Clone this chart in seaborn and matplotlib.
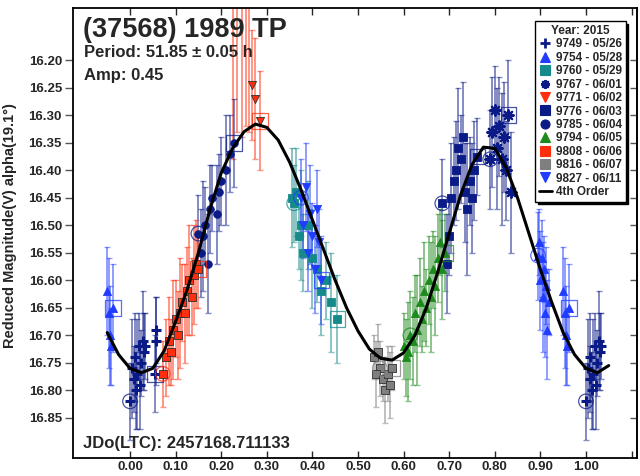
import numpy as np
import pandas as pd
import matplotlib
matplotlib.use("Agg")
import matplotlib.pyplot as plt
import seaborn as sns
from matplotlib.lines import Line2D

# ---------------- data ----------------
phase_9749 = [0.000, 0.004, 0.008, 0.010, 0.013, 0.016, 0.019, 0.022, 0.025, 0.028, 0.031, 0.034, 0.057, 0.058, 0.055]
mag_9749 = [16.82, 16.76, 16.78, 16.74, 16.80, 16.77, 16.72, 16.79, 16.75, 16.71, 16.73, 16.72, 16.69, 16.71, 16.77]
err_9749 = [0.07, 0.09, 0.06, 0.08, 0.07, 0.10, 0.06, 0.08, 0.06, 0.09, 0.07, 0.06, 0.06, 0.08, 0.07]

phase_9754 = [0.895, 0.898, 0.900, 0.903, 0.905, 0.908, 0.910, 0.913, 0.915, 0.918, 0.950, 0.953, 0.956, 0.958, 0.963]
mag_9754 = [16.555, 16.53, 16.60, 16.56, 16.63, 16.58, 16.66, 16.61, 16.69, 16.64, 16.62, 16.66, 16.70, 16.72, 16.65]
err_9754 = [0.08, 0.06, 0.09, 0.07, 0.10, 0.06, 0.08, 0.07, 0.09, 0.06, 0.08, 0.10, 0.09, 0.07, 0.08]

phase_9760 = [0.360, 0.355, 0.365, 0.370, 0.375, 0.380, 0.390, 0.400, 0.410, 0.420, 0.430, 0.440, 0.455]
mag_9760 = [16.46, 16.45, 16.44, 16.52, 16.50, 16.55, 16.50, 16.56, 16.58, 16.62, 16.60, 16.64, 16.67]
err_9760 = [0.07, 0.09, 0.08, 0.06, 0.10, 0.07, 0.08, 0.09, 0.06, 0.08, 0.07, 0.09, 0.08]

phase_9767 = [0.790, 0.795, 0.800, 0.805, 0.810, 0.815, 0.820, 0.825, 0.835, 0.830]
mag_9767 = [16.38, 16.33, 16.29, 16.36, 16.32, 16.38, 16.34, 16.40, 16.44, 16.30]
err_9767 = [0.09, 0.10, 0.08, 0.11, 0.09, 0.12, 0.10, 0.09, 0.11, 0.10]

phase_9771 = [0.225, 0.235, 0.245, 0.255, 0.262, 0.268, 0.275, 0.285]
mag_9771 = [16.08, 16.05, 16.09, 16.02, 16.07, 16.245, 16.27, 16.31]
err_9771 = [0.30, 0.28, 0.25, 0.30, 0.26, 0.10, 0.11, 0.09]

phase_9776 = [0.685, 0.695, 0.700, 0.705, 0.710, 0.715, 0.720, 0.725, 0.730, 0.735, 0.740, 0.745, 0.750, 0.755, 0.762]
mag_9776 = [16.46, 16.57, 16.52, 16.45, 16.42, 16.40, 16.36, 16.38, 16.34, 16.44, 16.47, 16.42, 16.45, 16.40, 16.375]
err_9776 = [0.08, 0.09, 0.07, 0.10, 0.08, 0.09, 0.11, 0.08, 0.10, 0.09, 0.12, 0.08, 0.10, 0.09, 0.07]

phase_9785 = [0.150, 0.155, 0.160, 0.165, 0.170, 0.175, 0.180, 0.190, 0.195, 0.200, 0.210, 0.220, 0.228]
mag_9785 = [16.515, 16.55, 16.52, 16.50, 16.57, 16.47, 16.45, 16.48, 16.44, 16.42, 16.40, 16.37, 16.35]
err_9785 = [0.07, 0.08, 0.10, 0.07, 0.09, 0.08, 0.06, 0.09, 0.07, 0.08, 0.10, 0.07, 0.08]

phase_9794 = [0.615, 0.600, 0.605, 0.610, 0.620, 0.625, 0.630, 0.635, 0.640, 0.645, 0.650, 0.655, 0.660, 0.665, 0.670, 0.675, 0.680, 0.685, 0.690]
mag_9794 = [16.70, 16.72, 16.74, 16.73, 16.71, 16.66, 16.69, 16.64, 16.67, 16.62, 16.65, 16.60, 16.63, 16.58, 16.61, 16.56, 16.53, 16.58, 16.55]
err_9794 = [0.08, 0.06, 0.07, 0.09, 0.08, 0.07, 0.10, 0.08, 0.06, 0.09, 0.07, 0.08, 0.10, 0.07, 0.09, 0.08, 0.06, 0.09, 0.07]

phase_9808 = [0.072, 0.078, 0.085, 0.090, 0.095, 0.100, 0.105, 0.110, 0.115, 0.120, 0.125, 0.130, 0.135, 0.140, 0.145, 0.149]
mag_9808 = [16.77, 16.74, 16.71, 16.73, 16.69, 16.67, 16.70, 16.66, 16.64, 16.66, 16.62, 16.60, 16.63, 16.59, 16.57, 16.58]
err_9808 = [0.06, 0.07, 0.08, 0.06, 0.09, 0.07, 0.08, 0.10, 0.07, 0.09, 0.08, 0.10, 0.07, 0.09, 0.08, 0.07]

phase_9816 = [0.548, 0.535, 0.540, 0.545, 0.555, 0.560, 0.565, 0.570, 0.575]
mag_9816 = [16.76, 16.74, 16.77, 16.73, 16.78, 16.80, 16.77, 16.79, 16.76]
err_9816 = [0.05, 0.04, 0.06, 0.05, 0.04, 0.06, 0.05, 0.06, 0.04]

phase_9827 = [0.375, 0.380, 0.385, 0.390, 0.395, 0.400, 0.405, 0.410, 0.415, 0.420]
mag_9827 = [16.45, 16.50, 16.43, 16.55, 16.48, 16.52, 16.58, 16.47, 16.53, 16.60]
err_9827 = [0.07, 0.06, 0.08, 0.07, 0.09, 0.06, 0.08, 0.07, 0.06, 0.08]

# 4th order fit, magnitudes
fit_phase = [-0.050, -0.025, 0.000, 0.025, 0.050, 0.075, 0.100, 0.125, 0.150, 0.175, 0.200,
             0.225, 0.250, 0.275, 0.300, 0.325, 0.350, 0.375, 0.400, 0.425, 0.450, 0.475,
             0.500, 0.525, 0.550, 0.575, 0.600, 0.625, 0.650, 0.675, 0.700, 0.725, 0.750,
             0.775, 0.800, 0.825, 0.850, 0.875, 0.900, 0.925, 0.950, 0.975, 1.000, 1.025, 1.050]
fit_mag = [16.695, 16.735, 16.760, 16.768, 16.760, 16.728, 16.675, 16.618, 16.550, 16.472, 16.405,
           16.360, 16.330, 16.316, 16.322, 16.345, 16.385, 16.435, 16.490, 16.545, 16.600, 16.650,
           16.692, 16.725, 16.742, 16.745, 16.732, 16.700, 16.650, 16.585, 16.515, 16.445, 16.390,
           16.358, 16.360, 16.395, 16.450, 16.515, 16.580, 16.640, 16.695, 16.735, 16.760, 16.768, 16.755]

session_labels = ["9749 - 05/26", "9754 - 05/28", "9760 - 05/29", "9767 - 06/01", "9771 - 06/02",
                  "9776 - 06/03", "9785 - 06/04", "9794 - 06/05", "9808 - 06/06", "9816 - 06/07",
                  "9827 - 06/11"]
x_tick_labels = ["0.00", "0.10", "0.20", "0.30", "0.40", "0.50", "0.60", "0.70", "0.80", "0.90", "1.00", ""]
y_tick_labels = ["16.20", "16.25", "16.30", "16.35", "16.40", "16.45", "16.50", "16.55",
                 "16.60", "16.65", "16.70", "16.75", "16.80", "16.85"]

# ---------------- styling ----------------
NAVY = "#0a1a86"
BLUE = "#1f3cff"
TEAL = "#168a8a"
RED = "#ff2e0c"
GREEN = "#1d8a1d"
GRAY = "#7f7f7f"
ASTER = (8, 2, 0)

styles = [
    ("+", NAVY, 60), ("^", BLUE, 34), ("s", TEAL, 32), (ASTER, NAVY, 55), ("v", RED, 34),
    ("s", NAVY, 34), ("o", NAVY, 30), ("^", GREEN, 34), ("s", RED, 40), ("s", GRAY, 36), ("v", BLUE, 34),
]
phases = [phase_9749, phase_9754, phase_9760, phase_9767, phase_9771, phase_9776,
          phase_9785, phase_9794, phase_9808, phase_9816, phase_9827]
mags = [mag_9749, mag_9754, mag_9760, mag_9767, mag_9771, mag_9776,
        mag_9785, mag_9794, mag_9808, mag_9816, mag_9827]
errs = [err_9749, err_9754, err_9760, err_9767, err_9771, err_9776,
        err_9785, err_9794, err_9808, err_9816, err_9827]

sns.set_theme(style="ticks")
plt.rcParams['font.family'] = ['Liberation Sans', 'DejaVu Sans']
plt.rcParams['font.weight'] = 'bold'
plt.rcParams['axes.labelweight'] = 'bold'

fig = plt.figure(figsize=(6.4, 4.76), dpi=100)
ax = fig.add_axes([73 / 640, 18 / 476, 564 / 640, 450 / 476])


def wrap(p, m, e):
    df = pd.DataFrame({"phase": p, "mag": m, "err": e})
    lo = df[df.phase < 0.05].assign(phase=lambda d: d.phase + 1)
    hi = df[df.phase >= 0.95].assign(phase=lambda d: d.phase - 1)
    return pd.concat([df, lo, hi], ignore_index=True)


unfilled = ("+", ASTER)
for (mk, col, size), p, m, e in zip(styles, phases, mags, errs):
    df = wrap(p, m, e)
    ax.errorbar(df.phase, df.mag, yerr=df.err, fmt="none", ecolor=col, alpha=0.5,
                elinewidth=1.4, capsize=2.5, capthick=1.0, zorder=2)
    if mk in unfilled:
        sns.scatterplot(data=df, x="phase", y="mag", marker=mk, color=col, s=size,
                        linewidth=2.2 if mk == "+" else 1.6, ax=ax, legend=False, zorder=3)
    else:
        sns.scatterplot(data=df, x="phase", y="mag", marker=mk, color=col, s=size,
                        edgecolor="#303030" if col in (RED, GRAY) else col,
                        linewidth=0.6, ax=ax, legend=False, zorder=3)
    # hollow markers at first and last observation of each session
    first = wrap([p[0]], [m[0]], [e[0]])
    last = wrap([p[-1]], [m[-1]], [e[-1]])
    ax.scatter(first.phase, first.mag, s=110, facecolors="none", edgecolors=col,
               linewidths=0.9, alpha=0.75, zorder=3)
    ax.scatter(last.phase, last.mag, s=130, marker="s", facecolors="none", edgecolors=col,
               linewidths=0.9, alpha=0.75, zorder=3)

sns.lineplot(x=fit_phase, y=fit_mag, color="black", linewidth=2.2, ax=ax, zorder=5)

ax.set_xlim(-0.125, 1.112)
ax.set_ylim(16.923, 16.105)

ax.set_xticks(np.arange(len(x_tick_labels)) * 0.1)
ax.set_xticklabels(x_tick_labels, fontsize=9.5, fontweight="bold")
ax.set_yticks(16.20 + np.arange(len(y_tick_labels)) * 0.05)
ax.set_yticklabels(y_tick_labels, fontsize=9.5, fontweight="bold")
ax.tick_params(axis="x", direction="in", top=True, bottom=True, length=5, width=1, pad=2)
ax.tick_params(axis="y", direction="out", left=True, length=6, width=1, color="#555555", pad=2)
sec = ax.secondary_yaxis("right")
sec.set_yticks(16.20 + np.arange(len(y_tick_labels)) * 0.05)
sec.tick_params(axis="y", direction="in", length=5, width=1, color="#555555", labelright=False)

for sp in ax.spines.values():
    sp.set_color("black")
    sp.set_linewidth(1.3)
sec.spines["right"].set_linewidth(1.3)

ax.set_xlabel("")
ax.set_ylabel("Reduced Magnitude(V) alpha(19.1°)", fontsize=10.5, fontweight="bold")
ax.yaxis.set_label_coords(-0.099, 0.516)

ax.text(0.018, 0.9356, "(37568) 1989 TP", transform=ax.transAxes, fontsize=19.5,
        fontweight="bold", va="baseline", ha="left")
ax.text(0.020, 0.891, "Period: 51.85 ± 0.05 h", transform=ax.transAxes, fontsize=12,
        fontweight="bold", va="baseline", ha="left")
ax.text(0.020, 0.840, "Amp: 0.45", transform=ax.transAxes, fontsize=12,
        fontweight="bold", va="baseline", ha="left")
ax.text(0.018, 0.022, "JDo(LTC): 2457168.711133", transform=ax.transAxes, fontsize=12,
        fontweight="bold", va="baseline", ha="left")

handles = []
for mk, col, size in styles:
    handles.append(Line2D([], [], marker=mk, color=col, linestyle="none", markersize=6.5,
                          markeredgewidth=2.0 if mk == "+" else (1.4 if mk == ASTER else 0.8)))
handles.append(Line2D([], [], color="black", linewidth=2))
labels = session_labels + ["4th Order"]
leg = ax.legend(handles, labels, title="Year: 2015", loc="upper right",
                bbox_to_anchor=(0.98, 0.97), frameon=True, fancybox=False,
                shadow={"color": "black", "alpha": 1.0},
                prop={"size": 8.5, "weight": "bold"}, title_fontproperties={"size": 8.5, "weight": "bold"},
                labelspacing=0.12, handlelength=1.1, handletextpad=0.35, borderpad=0.3,
                borderaxespad=0.0)
leg.get_frame().set_edgecolor("black")
leg.get_frame().set_linewidth(1.0)
leg.set_zorder(10)

fig.savefig("out.png", dpi=100)
